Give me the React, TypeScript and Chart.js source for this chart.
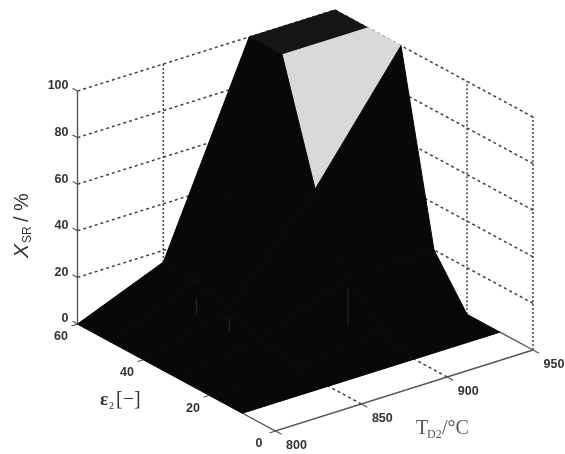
import React, { useEffect, useRef } from "react";
import { Chart, registerables } from "chart.js";

Chart.register(...registerables);

// Data
const temperatures = [800, 850, 900, 950];
const strains = [60, 50, 40, 30, 20, 10];
// rows follow strains, columns follow temperatures
const softeningRows = [
  [0, 15, 100, 100],
  [0, 15, 100, 100],
  [0, 10, 50, 100],
  [0, 5, 20, 20],
  [0, 0, 5, 0],
  [0, 0, 0, 0],
];
const tempTicks = [800, 850, 900, 950];
const strainTicks = [0, 20, 40, 60];
const softeningTicks = [0, 20, 40, 60, 80, 100];
const faintStems = [
  [850, 50, 0, 7],
  [850, 40, 0, 6],
  [900, 30, 0, 15],
];

// Oblique projection of the 3D box on the flat chart scales
const project = (t: number, e: number, z: number) => ({
  x: 77.5 + ((t - 800) / 150) * 257.5 + ((60 - e) / 60) * 198,
  y: 324 - ((t - 800) / 150) * 81 + ((60 - e) / 60) * 107 - z * 2.33,
});

const GRID = "#404040";
const AXIS = "#555555";
const seg = (pts: any[], color: string, dash: number[], width = 1) => ({
  data: pts,
  borderColor: color,
  borderWidth: width,
  borderDash: dash,
  pointRadius: 0,
  fill: false,
  tension: 0,
});

function buildDatasets() {
  const list: any[] = [];
  // back walls
  softeningTicks.forEach((z) => {
    if (z === 0) return;
    list.push(seg([project(800, 60, z), project(950, 60, z), project(950, 0, z)], GRID, [3, 3], 1.5));
  });
  list.push(seg([project(850, 60, 15), project(850, 60, 100)], GRID, [2, 2], 1.5));
  list.push(seg([project(950, 20, 0), project(950, 20, 100)], GRID, [2, 2], 1.5));
  list.push(seg([project(950, 0, 0), project(950, 0, 100)], GRID, [2, 2], 1.5));
  // floor strip in front of the surface
  [850, 900].forEach((t) => list.push(seg([project(t, 0, 0), project(t, 10, 0)], GRID, [3, 3], 1.5)));
  // axes
  list.push(seg([project(800, 60, 0), project(800, 60, 100)], AXIS, [], 1.4));
  list.push(seg([project(800, 60, 0), project(800, 0, 0), project(950, 0, 0)], AXIS, [], 1.4));
  list.push(seg([project(950, 0, 0), project(950, 10, 0)], AXIS, [], 1.4));
  // ticks
  softeningTicks.forEach((z) => {
    const a = project(800, 60, z);
    list.push(seg([a, { x: a.x - 5, y: a.y - 2.7 }], AXIS, [], 1.1));
  });
  strainTicks.forEach((e) => {
    const a = project(800, e, 0);
    list.push(seg([a, { x: a.x - 6, y: a.y + 1.9 }], AXIS, [], 1.1));
  });
  tempTicks.forEach((t) => {
    const a = project(t, 0, 0);
    list.push(seg([a, { x: a.x + 6, y: a.y + 3.3 }], AXIS, [], 1.1));
  });
  // surface faces, far ones first
  for (let c = temperatures.length - 2; c >= 0; c--) {
    for (let r = 0; r < strains.length - 1; r++) {
      const quad = [
        project(temperatures[c], strains[r], softeningRows[r][c]),
        project(temperatures[c + 1], strains[r], softeningRows[r][c + 1]),
        project(temperatures[c + 1], strains[r + 1], softeningRows[r + 1][c + 1]),
        project(temperatures[c], strains[r + 1], softeningRows[r + 1][c]),
      ];
      const isLight = temperatures[c] === 900 && strains[r] === 50;
      const isTop = temperatures[c] === 900 && strains[r] === 60;
      const color = isLight ? "#d9d9d9" : isTop ? "#151515" : "#080808";
      list.push({
        data: [...quad, quad[0]],
        borderColor: color,
        backgroundColor: color,
        borderWidth: 1,
        pointRadius: 0,
        tension: 0,
        fill: "shape",
      });
    }
  }
  faintStems.forEach(([t, e, z0, z1]) => {
    list.push(seg([project(t, e, z0), project(t, e, z1)], "#2c2c2c", [], 1));
  });
  const n = list.length;
  list.forEach((d, i) => (d.order = n - i));
  return list;
}

const labelsPlugin = {
  id: "boxLabels",
  afterDraw(chart: any) {
    const { ctx, scales } = chart;
    const px = (p: { x: number; y: number }) => ({
      x: scales.x.getPixelForValue(p.x),
      y: scales.y.getPixelForValue(p.y),
    });
    ctx.save();
    ctx.fillStyle = "#333";
    ctx.textBaseline = "middle";
    ctx.font = "bold 12.5px 'Liberation Sans'";
    ctx.textAlign = "right";
    softeningTicks.forEach((z) => {
      const a = px(project(800, 60, z));
      ctx.fillText(String(z), a.x - 9, a.y - 5);
    });
    ctx.textAlign = "center";
    strainTicks.forEach((e) => {
      const a = px(project(800, e, 0));
      ctx.fillText(String(e), a.x - 16.5, a.y + 13);
    });
    tempTicks.forEach((t) => {
      const a = px(project(t, 0, 0));
      ctx.fillText(String(t), a.x + 21, a.y + 15);
    });

    // temperature axis title
    ctx.textAlign = "left";
    ctx.fillStyle = "#555";
    ctx.font = "20px 'Liberation Serif'";
    ctx.fillText("T", 416, 429);
    ctx.font = "12px 'Liberation Serif'";
    ctx.fillText("D2", 427, 435);
    ctx.font = "20px 'Liberation Serif'";
    ctx.fillText("/°C", 442, 429);

    // strain axis title
    ctx.fillStyle = "#333";
    ctx.font = "bold 19px 'Liberation Serif'";
    ctx.fillText("ε", 100, 400);
    ctx.font = "10px 'Liberation Serif'";
    ctx.fillText("2", 109, 406);
    ctx.font = "20px 'Liberation Serif'";
    ctx.fillText("[−]", 116, 400);

    // softening axis title
    ctx.translate(22, 0);
    ctx.rotate(-Math.PI / 2);
    ctx.textAlign = "left";
    ctx.fillStyle = "#333";
    ctx.font = "italic 21px 'Liberation Sans'";
    ctx.fillText("X", -258, 0);
    ctx.font = "12px 'Liberation Sans'";
    ctx.fillText("SR", -243, 6);
    ctx.font = "20px 'Liberation Sans'";
    ctx.fillText("/ %", -222, 0);
    ctx.restore();
  },
};

export default function App() {
  const ref = useRef<HTMLCanvasElement>(null);
  useEffect(() => {
    const chart = new Chart(ref.current!, {
      type: "line",
      data: { datasets: buildDatasets() },
      options: {
        animation: false,
        responsive: false,
        layout: { padding: 0 },
        plugins: { legend: { display: false }, tooltip: { enabled: false } },
        scales: {
          x: { type: "linear", min: 0, max: 565, display: false },
          y: { type: "linear", min: 0, max: 454, reverse: true, display: false },
        },
      },
      plugins: [labelsPlugin],
    } as any);
    return () => chart.destroy();
  }, []);
  return (
    <div style={{ position: "absolute", left: 0, top: 0, width: 565, height: 454, background: "#fff" }}>
      <canvas ref={ref} width={565} height={454} style={{ display: "block", filter: "blur(0.5px)" }} />
    </div>
  );
}
